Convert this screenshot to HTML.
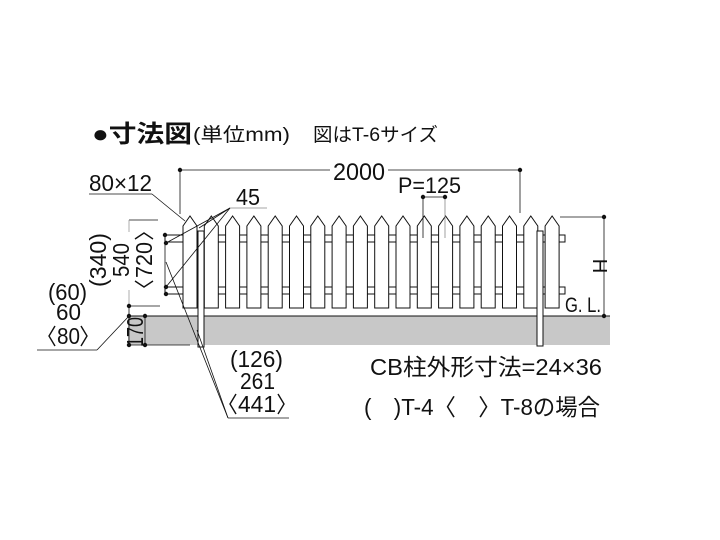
<!DOCTYPE html>
<html><head><meta charset="utf-8"><style>
body{margin:0;background:#fff}
svg{display:block}
text{font-family:"Liberation Sans","Noto Sans CJK JP",sans-serif;fill:#111}
</style></head><body>
<svg width="720" height="540" viewBox="0 0 720 540" xmlns="http://www.w3.org/2000/svg">
<defs>
<polygon id="pk" points="0,226 7,216 14,226 14,308 0,308" fill="#fff" stroke="#111" stroke-width="1"/>
</defs>
<text x="92" y="142" font-size="24" font-weight="bold" textLength="100" lengthAdjust="spacingAndGlyphs">●寸法図</text>
<text x="193" y="141" font-size="19" textLength="97" lengthAdjust="spacingAndGlyphs">(単位mm)</text>
<text x="313" y="141" font-size="19" textLength="125" lengthAdjust="spacingAndGlyphs">図はT-6サイズ</text>
<rect x="128" y="316" width="482" height="29" fill="#c8c8c8"/>
<line x1="128" y1="316" x2="610" y2="316" stroke="#111" stroke-width="1"/>
<rect x="165" y="235" width="400" height="7" fill="#fff" stroke="#111" stroke-width="1"/>
<rect x="165" y="287" width="400" height="7" fill="#fff" stroke="#111" stroke-width="1"/>
<use href="#pk" x="183"/><use href="#pk" x="204.3"/><use href="#pk" x="225.6"/><use href="#pk" x="246.9"/>
<use href="#pk" x="268.2"/><use href="#pk" x="289.5"/><use href="#pk" x="310.8"/><use href="#pk" x="332.1"/>
<use href="#pk" x="353.4"/><use href="#pk" x="374.7"/><use href="#pk" x="396"/><use href="#pk" x="417.3"/>
<use href="#pk" x="438.6"/><use href="#pk" x="459.9"/><use href="#pk" x="481.2"/><use href="#pk" x="502.5"/>
<use href="#pk" x="523.8"/><use href="#pk" x="545.1"/>
<rect x="198" y="231" width="6" height="116" fill="#fff" stroke="#111" stroke-width="1"/>
<rect x="537" y="231" width="6" height="115" fill="#fff" stroke="#111" stroke-width="1"/>
<g stroke="#111" stroke-width="0.8" fill="none">
<line x1="180" y1="170" x2="520" y2="170"/>
<line x1="180" y1="170" x2="180" y2="214"/>
<line x1="520" y1="170" x2="520" y2="213"/>
<line x1="423" y1="197" x2="445" y2="197"/>
<line x1="423" y1="197" x2="423" y2="238"/>
<line x1="445" y1="197" x2="445" y2="238" stroke="#888"/>
<line x1="560" y1="217" x2="604" y2="217"/>
<line x1="604" y1="217" x2="604" y2="316"/>
<line x1="165" y1="235" x2="165" y2="294"/>
<line x1="129" y1="220" x2="158" y2="220"/>
<line x1="129" y1="220" x2="129" y2="232" stroke="#999"/>
<line x1="129" y1="290" x2="129" y2="306" stroke="#999"/>
<line x1="129" y1="306" x2="160" y2="306"/>
<line x1="129" y1="306" x2="129" y2="345"/>
<line x1="145" y1="316" x2="145" y2="345"/>
<line x1="129" y1="345" x2="190" y2="345"/>
<line x1="89" y1="194" x2="152" y2="194"/>
<line x1="152" y1="194" x2="185" y2="221"/>
<line x1="230" y1="208" x2="267" y2="208" stroke="#888"/>
<line x1="230" y1="208" x2="166" y2="243"/>
<line x1="230" y1="208" x2="199" y2="228"/>
<line x1="230" y1="208" x2="166" y2="287"/>
<line x1="37" y1="350" x2="97" y2="350"/>
<line x1="97" y1="350" x2="129" y2="316"/>
<line x1="228" y1="418" x2="289" y2="418"/>
<line x1="228" y1="418" x2="166" y2="262"/>
<line x1="228" y1="418" x2="197" y2="330"/>
</g>
<g stroke="#111" stroke-width="1.4" fill="none">
<!-- 〈80〉 -->
<polyline points="55,326 49,336 55,346"/><polyline points="81,326 87,336 81,346"/>
<!-- 〈441〉 -->
<polyline points="236,394 230,404 236,414"/><polyline points="278,394 284,404 278,414"/>
<!-- 〈720〉 rotated -->
<polyline points="135,281 144,287 153,281"/><polyline points="135,239 144,233 153,239"/>
</g>
<g fill="#111">
<circle cx="180" cy="170" r="2.2"/><circle cx="520" cy="170" r="2.2"/>
<circle cx="423" cy="197" r="2.2"/><circle cx="445" cy="197" r="2.2"/>
<circle cx="604" cy="217" r="2.2"/><circle cx="604" cy="316" r="2.2"/>
<circle cx="165" cy="235" r="2.2"/><circle cx="166" cy="243" r="2.2"/>
<circle cx="166" cy="287" r="2.2"/><circle cx="166" cy="294" r="2.2"/>
<circle cx="129" cy="306" r="2.2"/><circle cx="129" cy="316" r="2.2"/>
<circle cx="145" cy="316" r="2.2"/><circle cx="145" cy="345" r="2.2"/>
<circle cx="129" cy="345" r="2.2"/>
</g>
<rect x="330" y="160" width="58" height="20" fill="#fff"/>
<text x="333" y="180" font-size="24" textLength="52" lengthAdjust="spacingAndGlyphs">2000</text>
<text x="398" y="193" font-size="22" textLength="63" lengthAdjust="spacingAndGlyphs">P=125</text>
<text x="89" y="191" font-size="23" textLength="63" lengthAdjust="spacingAndGlyphs">80×12</text>
<text x="236" y="205" font-size="23" textLength="24" lengthAdjust="spacingAndGlyphs">45</text>
<text x="593" y="266" font-size="20" transform="rotate(90 593 266)" text-anchor="middle">H</text>
<text x="565" y="312" font-size="21" textLength="36" lengthAdjust="spacingAndGlyphs">G. L.</text>
<g font-size="23">
<text transform="translate(106,260) rotate(-90)" x="-27" textLength="54" lengthAdjust="spacingAndGlyphs">(340)</text>
<text transform="translate(129,260) rotate(-90)" x="-17" textLength="34" lengthAdjust="spacingAndGlyphs">540</text>
<text transform="translate(152,260) rotate(-90)" x="-18" textLength="36" lengthAdjust="spacingAndGlyphs">720</text>
<text transform="translate(143,332) rotate(-90)" x="-15" textLength="30" lengthAdjust="spacingAndGlyphs">170</text>
<text x="48" y="300" textLength="39" lengthAdjust="spacingAndGlyphs">(60)</text>
<text x="56" y="320" textLength="25" lengthAdjust="spacingAndGlyphs">60</text>
<text x="57" y="344" textLength="23" lengthAdjust="spacingAndGlyphs">80</text>
<text x="230" y="367" textLength="53" lengthAdjust="spacingAndGlyphs">(126)</text>
<text x="240" y="389" textLength="35" lengthAdjust="spacingAndGlyphs">261</text>
<text x="238" y="412" textLength="38" lengthAdjust="spacingAndGlyphs">441</text>
<text x="370" y="375" textLength="232" lengthAdjust="spacingAndGlyphs">CB柱外形寸法=24×36</text>
<text x="364" y="415" textLength="236" lengthAdjust="spacingAndGlyphs">(　)T-4〈　〉T-8の場合</text>
</g>
</svg>
</body></html>
